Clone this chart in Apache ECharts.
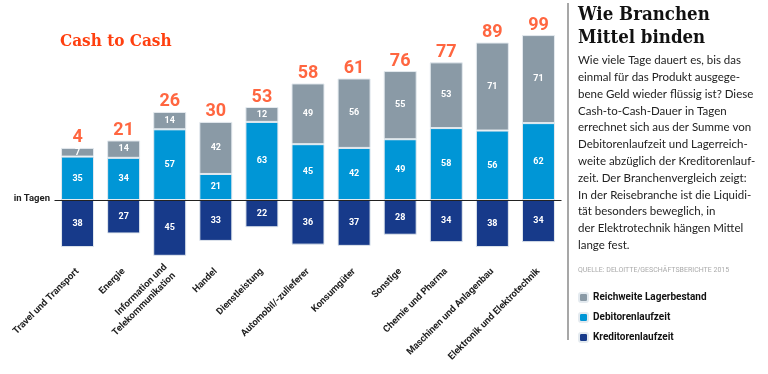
<!DOCTYPE html>
<html><head><meta charset="utf-8">
<script src="https://cdn.jsdelivr.net/npm/echarts@6/dist/echarts.min.js"></script>
<style>html,body{margin:0;padding:0;background:#fff}#c{width:768px;height:374px}</style>
</head><body><div id="c"></div>
<script>
const categories = ["Travel und Transport","Energie","Information und\nTelekommunikation","Handel","Dienstleistung","Automobil/-zulieferer","Konsumgüter","Sonstige","Chemie und Pharma","Maschinen und Anlagenbau","Elektronik und Elektrotechnik"];
const debitoren = [35,34,57,21,63,45,42,49,58,56,62];
const lager = [7,14,14,42,12,49,56,55,53,71,71];
const kreditoren = [38,27,45,33,22,36,37,28,34,38,34];
const totals = [4,21,26,30,53,58,61,76,77,89,99];
const bodyLines = ["Wie viele Tage dauert es, bis das","einmal für das Produkt ausgege-","bene Geld wieder flüssig ist? Diese","Cash-to-Cash-Dauer in Tagen","errechnet sich aus der Summe von","Debitorenlaufzeit und Lagerreich-","weite abzüglich der Kreditorenlauf-","zeit. Der Branchenvergleich zeigt:","In der Reisebranche ist die Liquidi-","tät besonders beweglich, in","der Elektrotechnik hängen Mittel","lange fest."];

const C_GREY='#8a9aa6', C_BLUE='#0096d6', C_DARK='#173a8a', C_ORANGE='#ff4010';
const chart = echarts.init(document.getElementById('c'));
const valLabel = {show:true, position:'inside', color:'#fff', fontSize:9, fontWeight:'bold', fontFamily:'Roboto'};
const border = {borderColor:'#e4eaef', borderWidth:1};
const graphics = [
  {type:'text', left:60, top:33, style:{text:'Cash to Cash', fill:C_ORANGE, font:'bold 17px "DejaVu Serif Condensed", "DejaVu Serif"'}},
  {type:'text', right:718, top:194, style:{text:'in Tagen', fill:'#222', font:'bold 9.5px Roboto', textAlign:'right'}},
  {type:'line', shape:{x1:568, y1:3, x2:568, y2:340}, style:{stroke:'#8a8a8a', lineWidth:1.5}},
  {type:'text', left:578, top:4, style:{text:'Wie Branchen\nMittel binden', fill:'#111', font:'bold 18.5px "DejaVu Serif Condensed", "DejaVu Serif"', lineHeight:23}},
  {type:'text', left:578, top:267, style:{text:'QUELLE: DELOITTE/GESCHÄFTSBERICHTE 2015', fill:'#aaa', font:'7px Roboto'}}
];
bodyLines.forEach((t,i)=>graphics.push({type:'text', left:578, top:54.5+i*16.8, style:{text:t, fill:'#222', font:'11.5px Lato'}}));

chart.setOption({
  animation:false,
  grid:{left:54.5, right:206.5, top:26.4, bottom:112},
  legend:{orient:'vertical', left:573, top:287, itemWidth:9, itemHeight:9, itemGap:9,
    data:['Reichweite Lagerbestand','Debitorenlaufzeit','Kreditorenlaufzeit'],
    textStyle:{fontSize:10, fontWeight:'bold', color:'#111', fontFamily:'Roboto'}},
  xAxis:{type:'category', data:categories, axisLine:{show:false, onZero:false}, axisTick:{show:false},
    axisLabel:{rotate:45, margin:8, interval:0, fontSize:9.5, fontWeight:'bold', color:'#222', fontFamily:'Roboto', lineHeight:12}},
  yAxis:{type:'value', min:-50, max:140, show:false, splitLine:{show:false}},
  graphic:graphics,
  series:[
    {name:'Debitorenlaufzeit', type:'bar', stack:'a', barWidth:33, data:debitoren, itemStyle:Object.assign({color:C_BLUE},border), label:valLabel,
      markLine:{silent:true, symbol:'none', data:[{yAxis:0}], label:{show:false}, lineStyle:{color:'#222', width:1, type:'solid'}, z:10}},
    {name:'Reichweite Lagerbestand', type:'bar', stack:'a', data:lager, itemStyle:Object.assign({color:C_GREY},border), label:valLabel},
    {name:'Kreditorenlaufzeit', type:'bar', stack:'a', data:kreditoren.map(v=>-v), itemStyle:Object.assign({color:C_DARK},border),
      label:Object.assign({}, valLabel, {formatter:p=>String(-p.value)})},
    {name:'total', type:'scatter', symbolSize:0, data:debitoren.map((d,i)=>d+lager[i]),
      label:{show:true, position:'top', distance:1, formatter:p=>String(totals[p.dataIndex]), color:C_ORANGE, fontSize:18, fontWeight:'bold', fontFamily:'Roboto'}}
  ]
});
</script></body></html>
